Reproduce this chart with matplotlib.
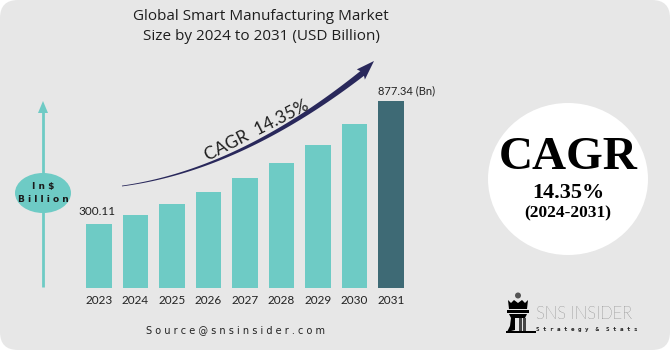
import numpy as np
import matplotlib
matplotlib.use("Agg")
import matplotlib.pyplot as plt
from matplotlib.patches import FancyBboxPatch, Ellipse, Circle, Polygon, Rectangle

# ----------------------------------------------------------------------------
# data
# ----------------------------------------------------------------------------
years = ["2023", "2024", "2025", "2026", "2027", "2028", "2029", "2030", "2031"]
market_size = [300.11, 343.5, 393.0, 449.0, 514.0, 587.0, 671.0, 768.0, 877.34]
first_label = "300.11"
last_label = "877.34 (Bn)"
cagr_text = "14.35%"
period_text = "(2024-2031)"

TEAL = "#6ecbc5"
DARK = "#3e6a75"
NAVY = "#29285b"

W, H = 670, 350
fig = plt.figure(figsize=(W / 100, H / 100), dpi=100)
fig.patch.set_facecolor("white")

# background card (pixel coords, y down)
bg = fig.add_axes([0, 0, 1, 1], zorder=0)
bg.set_xlim(0, W)
bg.set_ylim(H, 0)
bg.axis("off")
bg.add_patch(FancyBboxPatch((6, 6), W - 12, H - 12, boxstyle="round,pad=6,rounding_size=18",
                            facecolor="#e7e7e7", edgecolor="none"))

# ----------------------------------------------------------------------------
# bars
# ----------------------------------------------------------------------------
px_per_val = 187.3 / 877.34
ax = fig.add_axes([80.75 / W, (H - 288) / H, 328.5 / W, 228 / H], zorder=1)
ax.patch.set_alpha(0)
colors = [TEAL] * (len(years) - 1) + [DARK]
x = np.arange(len(years))
ax.bar(x, market_size, width=0.71, color=colors)
ax.set_xlim(-0.5, len(years) - 0.5)
ax.set_ylim(0, 228 / px_per_val)
ax.set_xticks(x)
ax.set_xticklabels(years, fontsize=8.5, family="Lato", color="#222222")
ax.tick_params(axis="x", length=0, pad=5)
ax.set_yticks([])
for s in ax.spines.values():
    s.set_visible(False)

ax.annotate(first_label, (x[0], market_size[0]), xytext=(-2, 12), textcoords="offset pixels",
            ha="center", va="center", fontsize=8.5, family="Lato", color="#222222")
ax.annotate(last_label, (x[-1] - 0.36, market_size[-1]), xytext=(0, 10), textcoords="offset pixels",
            ha="left", va="center", fontsize=8, family="Lato", color="#222222")

# ----------------------------------------------------------------------------
# overlay decorations (pixel coords)
# ----------------------------------------------------------------------------
ov = fig.add_axes([0, 0, 1, 1], zorder=2)
ov.patch.set_alpha(0)
ov.set_xlim(0, W)
ov.set_ylim(H, 0)
ov.axis("off")

ov.text(261, 17, "Global Smart Manufacturing Market", ha="center", va="center",
        fontsize=11, family="Open Sans", color="#1e1e1e")
ov.text(261, 36, "Size by 2024 to 2031 (USD Billion)", ha="center", va="center",
        fontsize=11, family="Open Sans", color="#1e1e1e")

# tapered growth arrow
p0 = np.array([122.0, 186.0])
c = np.array([240.0, 170.0])
p2 = np.array([364.0, 72.0])
t = np.linspace(0, 1, 80)[:, None]
pts = (1 - t) ** 2 * p0 + 2 * t * (1 - t) * c + t ** 2 * p2
d = 2 * (1 - t) * (c - p0) + 2 * t * (p2 - c)
d = d / np.linalg.norm(d, axis=1)[:, None]
nrm = np.column_stack([-d[:, 1], d[:, 0]])
wid = (0.4 + 2.6 * t[:, 0] ** 1.3)[:, None]
body = np.vstack([pts + nrm * wid, (pts - nrm * wid)[::-1]])
ov.add_patch(Polygon(body, closed=True, facecolor=NAVY, edgecolor="none"))
tip = np.array([374.0, 61.0])
end_d = d[-1]
end_n = nrm[-1]
base = p2 - end_d * 4
head = np.array([tip, base + end_n * 6.5, p2 - end_d * 1, base - end_n * 6.5])
ov.add_patch(Polygon(head, closed=True, facecolor=NAVY, edgecolor="none"))

ov.text(257, 131, "CAGR  14.35%", rotation=27, ha="center", va="center",
        fontsize=12.5, family="Lato", color="#1e1e1e", rotation_mode="anchor")

# vertical axis arrow with ellipse
ov.plot([43, 43], [287, 110], color=TEAL, lw=2, solid_capstyle="butt")
ov.add_patch(Polygon([[43, 101], [38, 113], [48, 113]], closed=True, facecolor=TEAL, edgecolor="none"))
ov.add_patch(Ellipse((43, 193), 56, 40, facecolor=TEAL, edgecolor="none"))
ov.text(43, 187, "I n $", ha="center", va="center", fontsize=6.5, fontweight="bold",
        family="DejaVu Sans", color="#1a1a1a")
ov.text(43, 199, "B i l l i o n", ha="center", va="center", fontsize=6.5, fontweight="bold",
        family="DejaVu Sans", color="#1a1a1a")

# CAGR circle
ov.add_patch(Ellipse((568, 179), 160, 152, facecolor="white", edgecolor="none"))
ov.text(568, 158, "CAGR", ha="center", va="center", fontsize=34, fontweight="bold",
        family="Liberation Serif", color="black")
ov.text(568, 193, cagr_text, ha="center", va="center", fontsize=16, fontweight="bold",
        family="Liberation Serif", color="black")
ov.text(568, 213, period_text, ha="center", va="center", fontsize=12.5, fontweight="bold",
        family="Liberation Serif", color="black")

# source
ov.text(235, 330, "S o u r c e @ s n s i n s i d e r . c o m", ha="center", va="center",
        fontsize=7, family="DejaVu Sans", color="#222222")

# logo
ov.add_patch(Circle((518, 295.5), 3, facecolor="#555555", edgecolor="none"))
ov.add_patch(Polygon([[508, 300], [511, 303], [514, 300], [518, 303], [522, 300], [525, 303],
                      [528, 300], [527, 309], [509, 309]], closed=True, facecolor="black", edgecolor="none"))
ov.add_patch(Rectangle((507, 310), 22, 3, facecolor="black", edgecolor="none"))
ov.add_patch(Polygon([[509, 314], [527, 314], [525, 318], [511, 318]], closed=True,
                     facecolor="black", edgecolor="none"))
ov.add_patch(Polygon([[511, 318], [515, 318], [515, 330], [507, 332], [510, 326]], closed=True,
                     facecolor="black", edgecolor="none"))
ov.add_patch(Rectangle((519, 318), 2.5, 14, facecolor="#444444", edgecolor="none"))
ov.add_patch(Rectangle((523, 318), 2.5, 14, facecolor="#444444", edgecolor="none"))
ov.add_patch(Rectangle((506, 331), 30, 1.5, facecolor="black", edgecolor="none"))
ov.text(536, 314, "SNS INSIDER", ha="left", va="center", fontsize=12, family="Lato",
        fontweight="light", color="#3a3a3a")
ov.text(536, 330, "S t r a t e g y  &  S t a t s", ha="left", va="center", fontsize=4.2,
        family="DejaVu Sans Mono", fontweight="bold", color="#222222")

fig.savefig("out.png", dpi=100)
